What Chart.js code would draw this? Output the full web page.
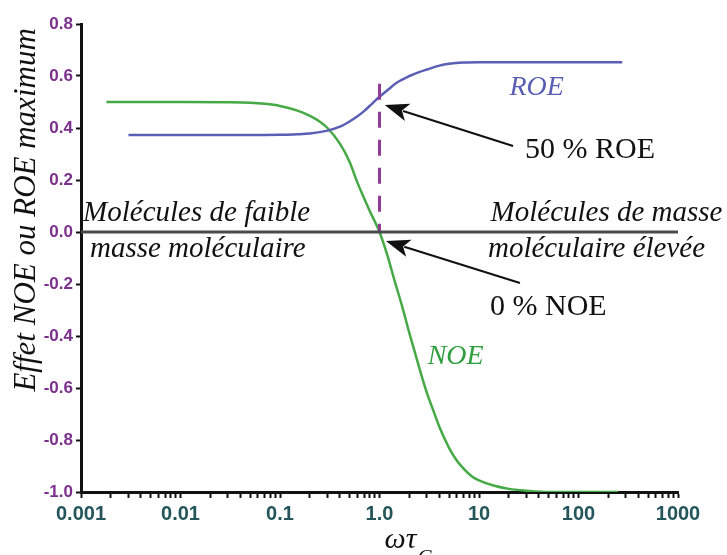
<!DOCTYPE html>
<html>
<head>
<meta charset="utf-8">
<script src="https://cdn.jsdelivr.net/npm/chart.js@4/dist/chart.umd.min.js"></script>
<style>
  html, body { margin: 0; padding: 0; background: #fff; }
  #wrap { width: 727px; height: 555px; }
</style>
</head>
<body>
<div id="wrap"><canvas id="c" width="727" height="555"></canvas></div>
<script>
// ---- data ----
const noeX = [0.0018, 0.01, 0.03, 0.05, 0.07, 0.1, 0.15, 0.2, 0.25, 0.3, 0.4, 0.5, 0.6, 0.7, 0.8, 1.0, 1.2, 1.4, 1.7, 2.0, 2.5, 3.0, 3.5, 4.0, 5.0, 6.0, 7.0, 8.5, 10, 14, 20, 30, 50, 250];
const noeY = [0.50, 0.50, 0.499, 0.497, 0.493, 0.485, 0.467, 0.447, 0.425, 0.40, 0.34, 0.27, 0.19, 0.13, 0.08, 0.0, -0.09, -0.18, -0.29, -0.39, -0.52, -0.62, -0.69, -0.75, -0.83, -0.88, -0.91, -0.94, -0.955, -0.975, -0.988, -0.995, -1.0, -1.0];
const roeX = [0.003, 0.05, 0.1, 0.15, 0.2, 0.3, 0.4, 0.5, 0.6, 0.7, 0.85, 1.0, 1.2, 1.5, 2.0, 2.5, 3.0, 4.0, 5.0, 7.0, 10, 275];
const roeY = [0.373, 0.373, 0.374, 0.376, 0.379, 0.39, 0.405, 0.425, 0.445, 0.465, 0.495, 0.52, 0.545, 0.575, 0.60, 0.615, 0.625, 0.64, 0.647, 0.652, 0.653, 0.653];
const zeroLineX = [0.001, 1000];
const zeroLineY = [0, 0];
const markerX = [1, 1];
const markerY = [0.57, 0];
const xMajorTicks = [0.001, 0.01, 0.1, 1, 10, 100, 1000];
const xTickLabels = ['0.001', '0.01', '0.1', '1.0', '10', '100', '1000'];
const yTickValues = [0.8, 0.6, 0.4, 0.2, 0.0, -0.2, -0.4, -0.6, -0.8, -1.0];
const yTickLabels = ['0.8', '0.6', '0.4', '0.2', '0.0', '-0.2', '-0.4', '-0.6', '-0.8', '-1.0'];
const yTitle = 'Effet NOE ou ROE maximum';
const xTitle = 'ωτ';
const xTitleSub = 'C';
const labelROE = 'ROE';
const labelNOE = 'NOE';
const note50 = '50 % ROE';
const note0 = '0 % NOE';
const leftRegion = ['Molécules de faible', 'masse moléculaire'];
const rightRegion = ['Molécules de masse', 'moléculaire élevée'];

const pts = (xs, ys) => xs.map((x, i) => ({ x: x, y: ys[i] }));

// full list of log ticks (1..9 x 10^n)
const allXTicks = [];
for (let e = -3; e <= 2; e++) {
  for (let m = 1; m <= 9; m++) allXTicks.push(m * Math.pow(10, e));
}
allXTicks.push(1000);
const isMajor = v => xMajorTicks.some(t => Math.abs(v - t) / t < 1e-6);

const serif = '"Liberation Serif", "Times New Roman", serif';

const annot = {
  id: 'annot',
  afterDatasetsDraw(chart) {
    const ctx = chart.ctx;
    const xs = chart.scales.x, ys = chart.scales.y;
    const X = v => xs.getPixelForValue(v), Y = v => ys.getPixelForValue(v);
    ctx.save();

    // region labels
    ctx.fillStyle = '#111';
    ctx.font = 'italic 29px ' + serif;
    ctx.textBaseline = 'middle';
    ctx.textAlign = 'left';
    ctx.fillText(leftRegion[0], X(0.00105), Y(0.07));
    ctx.fillText(leftRegion[1], X(0.00123), Y(-0.068));
    ctx.textAlign = 'right';
    ctx.fillText(rightRegion[0], X(2800), Y(0.07));
    ctx.fillText(rightRegion[1], X(1870), Y(-0.068));

    // curve labels
    ctx.textAlign = 'center';
    ctx.font = 'italic 28px ' + serif;
    ctx.fillStyle = '#5a5fb5';
    ctx.fillText(labelROE, X(38), Y(0.555));
    ctx.fillStyle = '#2e9e3e';
    ctx.textAlign = 'left';
    ctx.fillText(labelNOE, X(3.05), Y(-0.48));

    // notes
    ctx.fillStyle = '#111';
    ctx.font = '30px ' + serif;
    ctx.textAlign = 'left';
    ctx.fillText(note50, X(29), Y(0.315));
    ctx.fillText(note0, X(12.9), Y(-0.29));

    // arrows
    const arrow = (x1, y1, x2, y2) => {
      const ang = Math.atan2(y2 - y1, x2 - x1);
      const hl = 24, hw = 9;
      ctx.strokeStyle = '#111';
      ctx.lineWidth = 2;
      ctx.beginPath();
      ctx.moveTo(x1, y1);
      ctx.lineTo(x2 - Math.cos(ang) * hl * 0.8, y2 - Math.sin(ang) * hl * 0.8);
      ctx.stroke();
      ctx.fillStyle = '#111';
      ctx.beginPath();
      ctx.moveTo(x2, y2);
      ctx.lineTo(x2 - Math.cos(ang) * hl + Math.sin(ang) * hw, y2 - Math.sin(ang) * hl - Math.cos(ang) * hw);
      ctx.lineTo(x2 - Math.cos(ang) * hl * 0.75, y2 - Math.sin(ang) * hl * 0.75);
      ctx.lineTo(x2 - Math.cos(ang) * hl - Math.sin(ang) * hw, y2 - Math.sin(ang) * hl + Math.cos(ang) * hw);
      ctx.closePath();
      ctx.fill();
    };
    arrow(X(22), Y(0.331), X(1.13), Y(0.488));
    arrow(X(25.8), Y(-0.196), X(1.16), Y(-0.035));

    // axis titles
    ctx.fillStyle = '#111';
    ctx.font = 'italic 31px ' + serif;
    ctx.save();
    ctx.translate(35, Y(0.085));
    ctx.rotate(-Math.PI / 2);
    ctx.textAlign = 'center';
    ctx.textBaseline = 'alphabetic';
    ctx.fillText(yTitle, 0, 0);
    ctx.restore();

    ctx.font = 'italic 30px ' + serif;
    ctx.textAlign = 'left';
    ctx.textBaseline = 'alphabetic';
    const tx = X(1) + 5;
    ctx.fillText(xTitle, tx, 548);
    const w = ctx.measureText(xTitle).width;
    ctx.font = 'italic 21px ' + serif;
    ctx.fillText(xTitleSub, tx + w + 1, 564);

    ctx.restore();
  }
};

new Chart(document.getElementById('c'), {
  type: 'scatter',
  data: {
    datasets: [
      { data: pts(zeroLineX, zeroLineY), showLine: true, borderColor: '#4a4a4a', borderWidth: 3, pointRadius: 0 },
      { data: pts(markerX, markerY), showLine: true, borderColor: '#8e3c95', borderWidth: 3, borderDash: [16, 12], pointRadius: 0 },
      { data: pts(roeX, roeY), showLine: true, borderColor: '#5a5fb5', borderWidth: 2.5, pointRadius: 0, cubicInterpolationMode: 'monotone' },
      { data: pts(noeX, noeY), showLine: true, borderColor: '#45aa45', borderWidth: 2.5, pointRadius: 0, cubicInterpolationMode: 'monotone' }
    ]
  },
  options: {
    responsive: false,
    animation: false,
    layout: { padding: { left: 0, right: 49, top: 24, bottom: 0 } },
    plugins: { legend: { display: false }, tooltip: { enabled: false } },
    scales: {
      x: {
        type: 'logarithmic',
        min: 0.001, max: 1000,
        afterBuildTicks: s => { s.ticks = allXTicks.map(v => ({ value: v, major: isMajor(v) })); },
        afterFit: s => { s.height = 63; },
        ticks: {
          autoSkip: false, maxRotation: 0, padding: 4,
          color: '#23555b',
          font: { family: '"Liberation Sans", Arial, sans-serif', size: 20, weight: 'bold' },
          callback: (v) => { const i = xMajorTicks.findIndex(t => Math.abs(v - t) / t < 1e-6); return i >= 0 ? xTickLabels[i] : ''; }
        },
        grid: { drawOnChartArea: false, tickLength: 6, tickColor: '#111', tickWidth: 2 },
        border: { display: true, color: '#111', width: 3 }
      },
      y: {
        min: -1.0, max: 0.8,
        afterBuildTicks: s => { s.ticks = yTickValues.map(v => ({ value: v })); },
        afterFit: s => { s.width = 81; },
        ticks: {
          autoSkip: false, padding: 3,
          color: '#7b2f8c',
          font: { family: '"Liberation Sans", Arial, sans-serif', size: 17, weight: 'bold' },
          callback: (v) => { const i = yTickValues.findIndex(t => Math.abs(v - t) < 1e-9); return i >= 0 ? yTickLabels[i] : ''; }
        },
        grid: { drawOnChartArea: false, tickLength: 5, tickColor: '#111', tickWidth: 2 },
        border: { display: true, color: '#111', width: 3 }
      }
    }
  },
  plugins: [annot]
});
</script>
</body>
</html>
